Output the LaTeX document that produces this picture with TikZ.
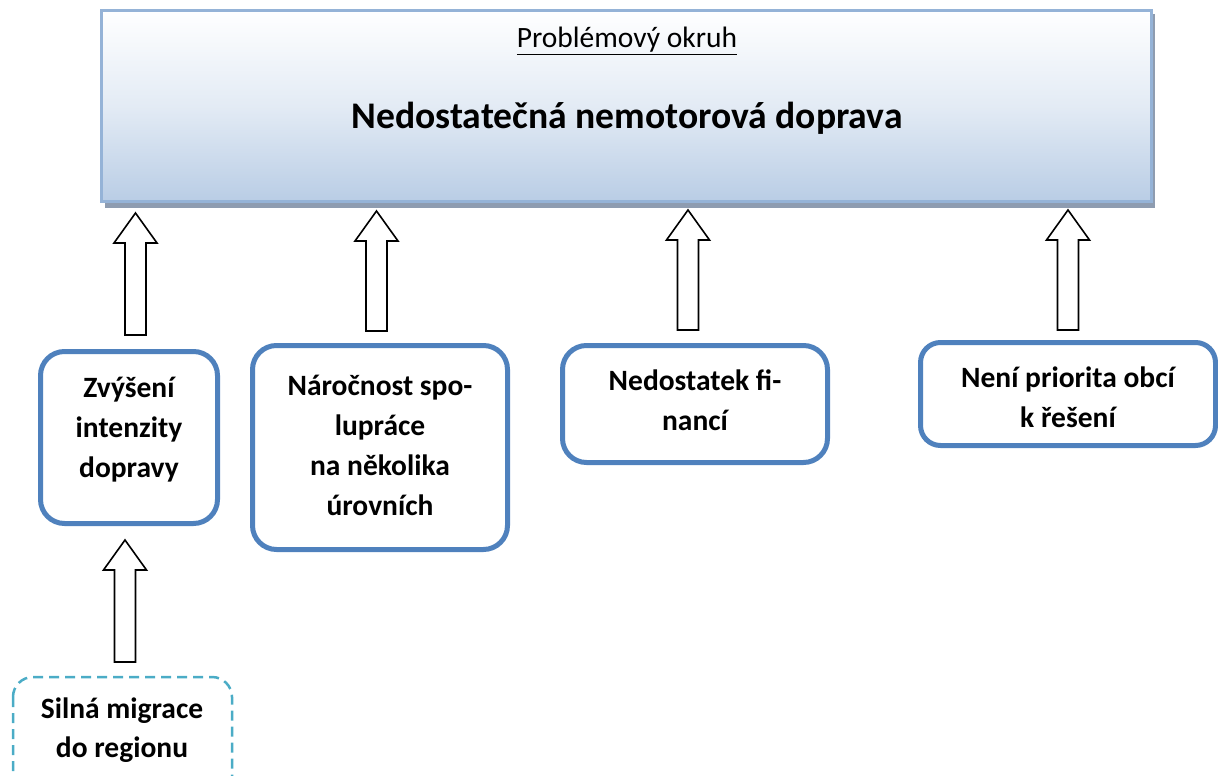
\documentclass[tikz,border=0pt]{standalone}
\usepackage{fontspec}
\setmainfont{Carlito}
\definecolor{boxblue}{HTML}{4F81BD}
\definecolor{topborder}{HTML}{95B3D7}
\definecolor{topfill}{HTML}{B9CDE5}
\definecolor{shadowgray}{HTML}{8E9CB0}
\definecolor{dashteal}{HTML}{4BACC6}
\newcommand{\bkarrow}[3]{% center x, bottom y, tip y
  \draw[blockarrow] (#1-10.5,#2) -- (#1-10.5,#3+30) -- (#1-21.5,#3+30) -- (#1,#3)
    -- (#1+21.5,#3+30) -- (#1+10.5,#3+30) -- (#1+10.5,#2) -- cycle;}
\begin{document}
\begin{tikzpicture}[x=1pt,y=-1pt,
  causebox/.style={draw=boxblue, line width=5pt, rounded corners=24pt, fill=white, inner sep=0pt},
  dashbox/.style={draw=dashteal, line width=2.5pt, dash pattern=on 10pt off 6pt,
    rounded corners=20pt},
  blockarrow/.style={draw=black, line width=1.6pt, fill=white, line join=miter},
  boxtext/.style={align=center, font=\bfseries\fontsize{29.5}{40}\selectfont, inner sep=0pt, anchor=base}]
\useasboundingbox (0,0) rectangle (1218,776);
\clip (0,0) rectangle (1218,776);
% top box
\fill[shadowgray] (105,14) rectangle (1155,208);
\node[draw=topborder, line width=3pt, top color=white, bottom color=topfill,
  middle color=white!60!topfill, minimum width=1050pt, minimum height=191pt,
  inner sep=0pt] (top) at (626.5,106) {};
\node[anchor=base, font=\fontsize{29.5}{34}\selectfont, inner sep=0pt] (sub) at (627,48) {\underline{Problémový okruh}};
\node[anchor=base, font=\bfseries\fontsize{37.6}{44}\selectfont, inner sep=0pt] (title) at (627,128) {Nedostatečná nemotorová doprava};
% cause boxes
\node[causebox, minimum width=177pt, minimum height=172pt] (b1) at (129,437.5) {};
\node[boxtext] (t1) at (129,477) {Zvýšení\\intenzity\\dopravy};
\node[causebox, minimum width=255pt, minimum height=204pt] (b2) at (380,447.5) {};
\node[boxtext] (t2) at (380,515) {Náročnost spo-\\lupráce\\na několika\\úrovních};
\node[causebox, minimum width=265pt, minimum height=117pt] (b3) at (695,404) {};
\node[boxtext] (t3) at (695,430) {Nedostatek fi-\\nancí};
\node[causebox, minimum width=295pt, minimum height=103pt, rounded corners=20pt] (b4) at (1068,394) {};
\node[boxtext] (t4) at (1068,427) {Není priorita obcí\\k řešení};
% dashed box
\draw[dashbox] (13,677) rectangle (232,800);
\node[boxtext, font=\bfseries\fontsize{29.5}{39}\selectfont] (t5) at (122,757) {Silná migrace\\do regionu};
% block arrows
\bkarrow{135.5}{335}{213}
\bkarrow{376.5}{331}{211}
\bkarrow{688}{330}{210}
\bkarrow{1068}{330}{210}
\bkarrow{125}{662}{540}
\end{tikzpicture}
\end{document}
